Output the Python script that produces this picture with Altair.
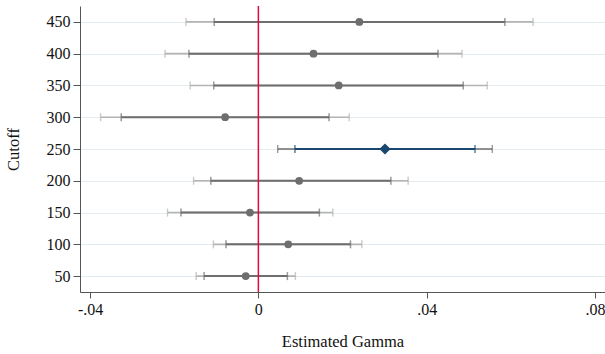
import altair as alt
import pandas as pd

cutoffs = [450, 400, 350, 300, 250, 200, 150, 100, 50]
estimate = [0.0240, 0.0131, 0.0191, -0.0079, 0.0301, 0.0097, -0.0020, 0.0071, -0.0030]
inner_lo = [-0.0105, -0.0165, -0.0106, -0.0326, 0.0087, -0.0113, -0.0184, -0.0077, -0.0129]
inner_hi = [0.0586, 0.0427, 0.0487, 0.0168, 0.0515, 0.0315, 0.0145, 0.0219, 0.0069]
outer_lo = [-0.0172, -0.0222, -0.0162, -0.0375, 0.0046, -0.0154, -0.0216, -0.0107, -0.0148]
outer_hi = [0.0653, 0.0484, 0.0544, 0.0216, 0.0556, 0.0356, 0.0177, 0.0246, 0.0088]
highlight_cutoff = 250

x_ticks = [-0.04, 0, 0.04, 0.08]
x_tick_labels = ["-.04", "0", ".04", ".08"]
y_ticks = [50, 100, 150, 200, 250, 300, 350, 400, 450]

df = pd.DataFrame({
    "cutoff": cutoffs, "est": estimate,
    "ilo": inner_lo, "ihi": inner_hi,
    "olo": outer_lo, "ohi": outer_hi,
})
df["hl"] = df["cutoff"] == highlight_cutoff

FONT = "Liberation Serif"
GRAY = "#6e6e6e"
LIGHT = "#b4b4b4"
NAVY = "#1a476f"
RED = "#dc0f3c"

label_expr = " : ".join(
    f"abs(datum.value - ({v})) < 1e-9 ? '{l}'" for v, l in zip(x_ticks, x_tick_labels)
) + " : ''"

xscale = alt.Scale(domain=[-0.0424, 0.0824], nice=False, zero=False)
yscale = alt.Scale(domain=[25, 475], nice=False, zero=False)

xaxis = alt.Axis(values=x_ticks, labelExpr=label_expr, grid=False, title="Estimated Gamma")
yaxis = alt.Axis(values=y_ticks, grid=True, title="Cutoff")

base = alt.Chart(df)
xs = lambda f: alt.X(f, scale=xscale, axis=xaxis)
ys = alt.Y("cutoff:Q", scale=yscale, axis=yaxis)

outer_color = alt.condition("datum.hl", alt.value(GRAY), alt.value(LIGHT))
inner_color = alt.condition("datum.hl", alt.value(NAVY), alt.value(GRAY))

outer_line = base.mark_rule(strokeWidth=1.6).encode(
    x=xs("olo:Q"), x2="ohi:Q", y=ys, color=outer_color)
outer_cap_lo = base.mark_tick(orient="vertical", size=8, thickness=1.4).encode(
    x=xs("olo:Q"), y=ys, color=outer_color)
outer_cap_hi = base.mark_tick(orient="vertical", size=8, thickness=1.4).encode(
    x=xs("ohi:Q"), y=ys, color=outer_color)
inner_line = base.mark_rule(strokeWidth=2).encode(
    x=xs("ilo:Q"), x2="ihi:Q", y=ys, color=inner_color)
inner_cap_lo = base.mark_tick(orient="vertical", size=8, thickness=1.5).encode(
    x=xs("ilo:Q"), y=ys, color=inner_color)
inner_cap_hi = base.mark_tick(orient="vertical", size=8, thickness=1.5).encode(
    x=xs("ihi:Q"), y=ys, color=inner_color)

zero_rule = alt.Chart(pd.DataFrame({"z": [0]})).mark_rule(color=RED, strokeWidth=1.5).encode(
    x=xs("z:Q"))

points = base.transform_filter("!datum.hl").mark_point(
    shape="circle", filled=True, size=60, opacity=1, color=GRAY).encode(
    x=xs("est:Q"), y=ys)
diamond = base.transform_filter("datum.hl").mark_point(
    shape="diamond", filled=True, size=125, opacity=1, color=NAVY).encode(
    x=xs("est:Q"), y=ys)

chart = alt.layer(
    outer_line, outer_cap_lo, outer_cap_hi, inner_line, inner_cap_lo, inner_cap_hi,
    zero_rule, points, diamond
).properties(
    width=525, height=286,
    autosize=alt.AutoSizeParams(type="none"),
    padding={"left": 80, "top": 6, "right": 0, "bottom": 62},
    background="white",
).configure_view(stroke=None).configure_axis(
    labelFont=FONT, labelFontSize=16, titleFont=FONT, titleFontSize=16.5,
    titleFontWeight="normal", labelColor="#111", titleColor="#111",
    domainColor="#555", tickColor="#555", labelPadding=3,
    labelOverlap=False, labelFlush=False, labelBound=False,
).configure_axisX(
    tickSize=6, titlePadding=16,
).configure_axisY(
    tickSize=7, titlePadding=25, gridColor="#e2ebef", gridWidth=1,
)

chart.save("out.html", embed_options={"renderer": "svg", "actions": False})
